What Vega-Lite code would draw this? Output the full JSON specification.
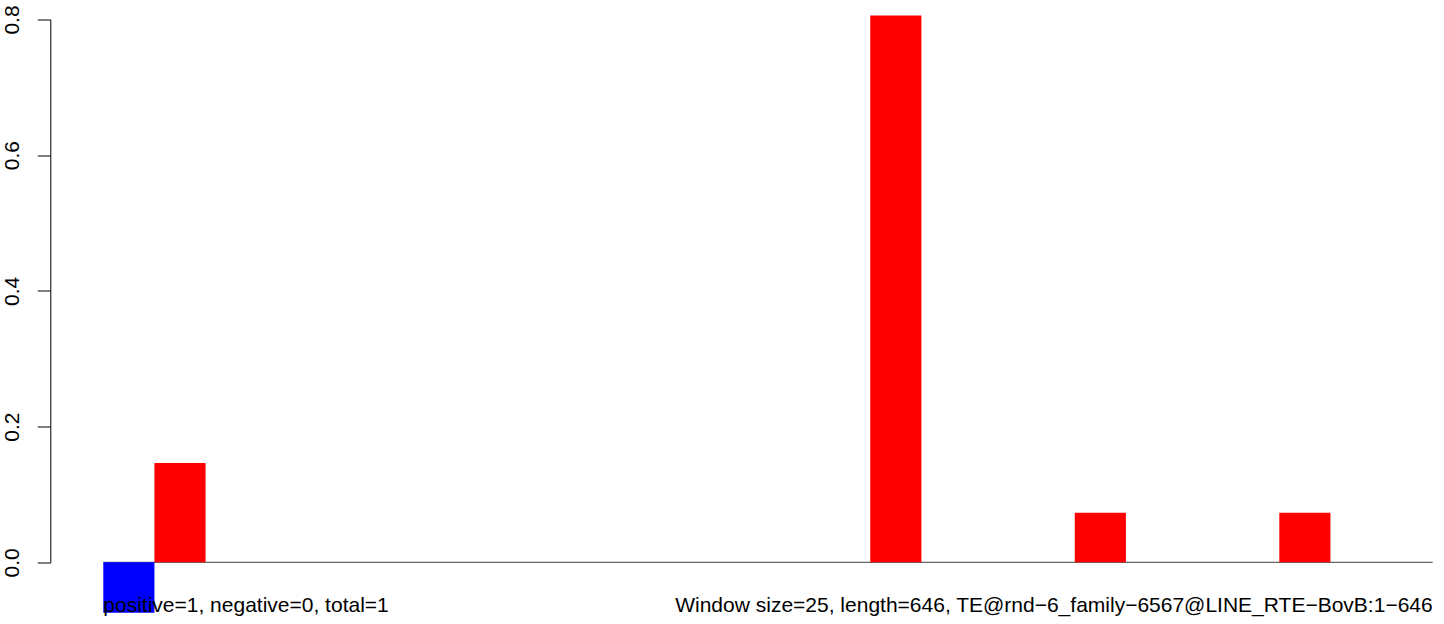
{
  "$schema": "https://vega.github.io/schema/vega-lite/v6.json",
  "width": 1329.4,
  "height": 542.8,
  "autosize": {"type": "none"},
  "padding": {"left": 103.3, "top": 19.5, "right": 11.3, "bottom": 61.7},
  "background": "white",
  "config": {"view": {"stroke": null}, "font": "Liberation Sans"},
  "datasets": {
    "bars": [
      {"start": 0, "end": 1, "value": -0.0745, "strand": "minus"},
      {"start": 1, "end": 2, "value": 0.1465, "strand": "plus"},
      {"start": 15, "end": 16, "value": 0.806, "strand": "plus"},
      {"start": 19, "end": 20, "value": 0.073, "strand": "plus"},
      {"start": 23, "end": 24, "value": 0.073, "strand": "plus"}
    ],
    "baseline": [{"from": 0, "to": 26, "level": 0}],
    "notes": [
      {"pos": 0, "side": "left", "label": "positive=1, negative=0, total=1"},
      {"pos": 26, "side": "right", "label": "Window size=25, length=646, TE@rnd−6_family−6567@LINE_RTE−BovB:1−646"}
    ]
  },
  "layer": [
    {
      "data": {"name": "baseline"},
      "mark": {"type": "rule", "color": "#666666", "strokeWidth": 1.2},
      "encoding": {
        "x": {"field": "from", "type": "quantitative", "scale": {"domain": [0, 26], "nice": false, "zero": false}, "axis": null},
        "x2": {"field": "to"},
        "y": {"field": "level", "type": "quantitative"}
      }
    },
    {
      "data": {"name": "bars"},
      "mark": {"type": "rect"},
      "encoding": {
        "x": {"field": "start", "type": "quantitative", "scale": {"domain": [0, 26], "nice": false, "zero": false}, "axis": null},
        "x2": {"field": "end"},
        "y": {
          "field": "value", "type": "quantitative",
          "scale": {"domain": [0, 0.8], "nice": false, "zero": false},
          "axis": {
            "title": null,
            "values": [0, 0.2, 0.4, 0.6, 0.8],
            "format": ".1f",
            "offset": 53,
            "grid": false,
            "domainColor": "black",
            "domainWidth": 1,
            "tickColor": "black",
            "tickWidth": 1,
            "tickSize": 13,
            "labelAngle": -90,
            "labelAlign": "center",
            "labelBaseline": "alphabetic",
            "labelPadding": 19,
            "labelFontSize": 21,
            "labelColor": "black",
            "labelFont": "Liberation Sans"
          }
        },
        "y2": {"datum": 0},
        "color": {
          "field": "strand", "type": "nominal",
          "scale": {"domain": ["minus", "plus"], "range": ["#0000FF", "#FF0000"]},
          "legend": null
        }
      }
    },
    {
      "data": {"name": "notes"},
      "transform": [{"filter": "datum.side === 'left'"}],
      "mark": {"type": "text", "align": "left", "baseline": "alphabetic", "fontSize": 21, "color": "black", "font": "Liberation Sans"},
      "encoding": {
        "x": {"field": "pos", "type": "quantitative"},
        "y": {"datum": -0.0728},
        "text": {"field": "label"}
      }
    },
    {
      "data": {"name": "notes"},
      "transform": [{"filter": "datum.side === 'right'"}],
      "mark": {"type": "text", "align": "right", "baseline": "alphabetic", "fontSize": 21, "color": "black", "font": "Liberation Sans"},
      "encoding": {
        "x": {"field": "pos", "type": "quantitative"},
        "y": {"datum": -0.0728},
        "text": {"field": "label"}
      }
    }
  ]
}
